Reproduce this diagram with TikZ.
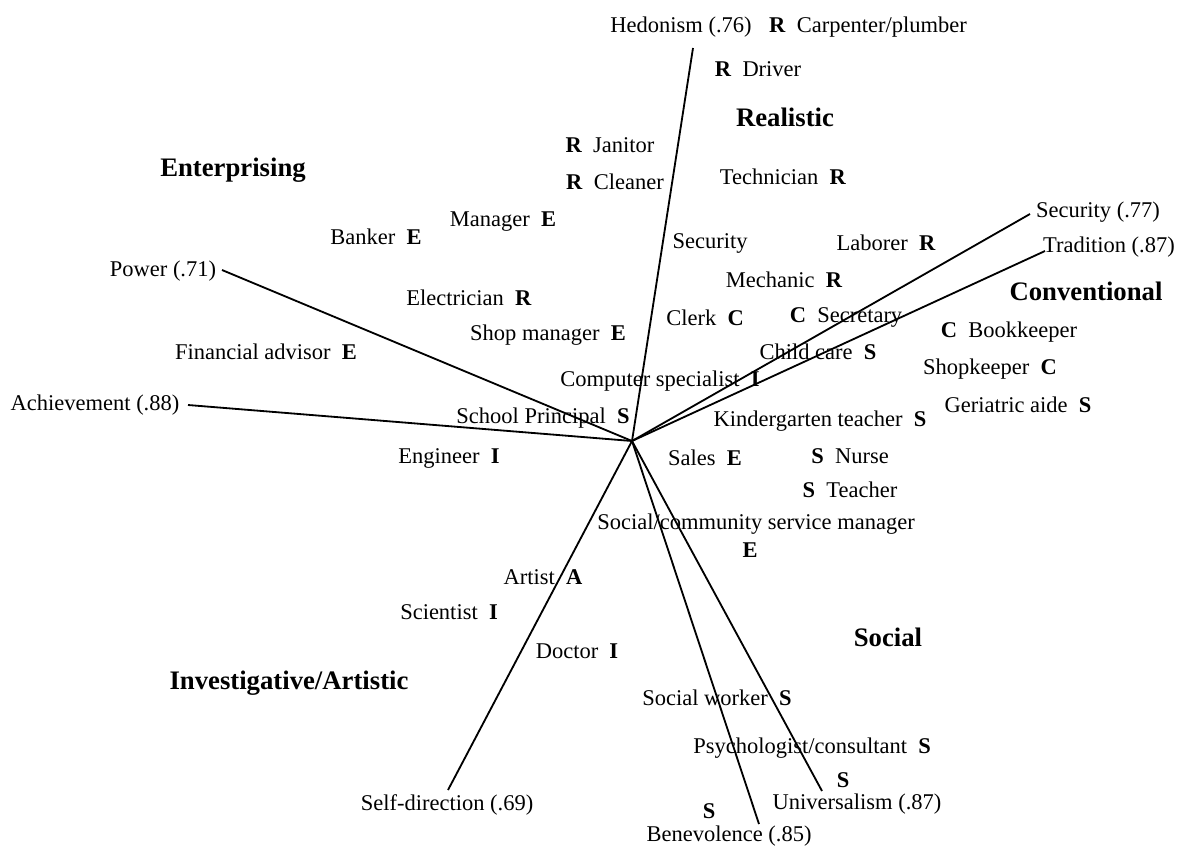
\documentclass[tikz,border=0pt]{standalone}
\usepackage{fontspec}
\setmainfont{Liberation Serif}
\begin{document}
\begin{tikzpicture}[x=0.025cm, y=-0.025cm,
    occ/.style={font=\fontsize{16}{19}\selectfont, inner sep=0pt},
    cat/.style={font=\fontsize{19}{22}\selectfont\bfseries, inner sep=0pt},
    axis/.style={black, line width=1.3pt}]
                \useasboundingbox (0,0) rectangle (1188,848);
                % centre and ends of the value vectors
                \coordinate (O) at (632,441);
                \coordinate (hedEnd) at (693,48);
                \coordinate (powEnd) at (222,270);
                \coordinate (achEnd) at (188,405);
                \coordinate (secEnd) at (1030,214);
                \coordinate (traEnd) at (1045,251);
                \coordinate (selEnd) at (448,790);
                \coordinate (benEnd) at (759,824);
                \coordinate (uniEnd) at (822,791);
                \draw[axis] (O) -- (hedEnd);
                \draw[axis] (O) -- (powEnd);
                \draw[axis] (O) -- (achEnd);
                \draw[axis] (O) -- (secEnd);
                \draw[axis] (O) -- (traEnd);
                \draw[axis] (O) -- (selEnd);
                \draw[axis] (O) -- (benEnd);
                \draw[axis] (O) -- (uniEnd);
                % values
                \node[occ] (hedonism) at (681,27) {Hedonism (.76)};
                \node[occ] (power) at (163,271) {Power (.71)};
                \node[occ] (achievement) at (95,405) {Achievement (.88)};
                \node[occ] (security) at (1098,212) {Security (.77)};
                \node[occ] (tradition) at (1109,247) {Tradition (.87)};
                \node[occ] (selfdir) at (447,805) {Self-direction (.69)};
                \node[occ] (universalism) at (857,804) {Universalism (.87)};
                \node[occ] (benevolence) at (729,836) {Benevolence (.85)};
                % types
                \node[cat] (realistic) at (785,117) {Realistic};
                \node[cat] (enterprising) at (233,170) {Enterprising};
                \node[cat] (conventional) at (1086,291) {Conventional};
                \node[cat] (social) at (888,637) {Social};
                \node[cat] (invart) at (289,683) {Investigative/Artistic};
                % occupations
                \node[occ] (carpenter) at (868,27) {\textbf{R}\enspace Carpenter/plumber};
                \node[occ] (driver) at (758,69) {\textbf{R}\enspace Driver};
                \node[occ] (janitor) at (610,145) {\textbf{R}\enspace Janitor};
                \node[occ] (cleaner) at (615,182) {\textbf{R}\enspace Cleaner};
                \node[occ] (technician) at (783,177) {Technician\enspace\textbf{R}};
                \node[occ] (banker) at (376,237) {Banker\enspace\textbf{E}};
                \node[occ] (manager) at (503,222) {Manager\enspace\textbf{E}};
                \node[occ] (electrician) at (469,298) {Electrician\enspace\textbf{R}};
                \node[occ] (financial) at (266,352) {Financial advisor\enspace\textbf{E}};
                \node[occ] (shopmanager) at (548,335) {Shop manager\enspace\textbf{E}};
                \node[occ] (computer) at (660,381) {Computer specialist\enspace\textbf{I}};
                \node[occ] (principal) at (543,418) {School Principal\enspace\textbf{S}};
                \node[occ] (engineer) at (449,458) {Engineer\enspace\textbf{I}};
                \node[occ] (securityjob) at (710,243) {Security};
                \node[occ] (laborer) at (886,243) {Laborer\enspace\textbf{R}};
                \node[occ] (mechanic) at (784,280) {Mechanic\enspace\textbf{R}};
                \node[occ] (clerk) at (705,318) {Clerk\enspace\textbf{C}};
                \node[occ] (secretary) at (846,317) {\textbf{C}\enspace Secretary};
                \node[occ] (bookkeeper) at (1009,332) {\textbf{C}\enspace Bookkeeper};
                \node[occ] (childcare) at (818,352) {Child care\enspace\textbf{S}};
                \node[occ] (shopkeeper) at (990,369) {Shopkeeper\enspace\textbf{C}};
                \node[occ] (geriatric) at (1018,405) {Geriatric aide\enspace\textbf{S}};
                \node[occ] (kindergarten) at (820,421) {Kindergarten teacher\enspace\textbf{S}};
                \node[occ] (sales) at (705,458) {Sales\enspace\textbf{E}};
                \node[occ] (nurse) at (850,456) {\textbf{S}\enspace Nurse};
                \node[occ] (teacher) at (850,490) {\textbf{S}\enspace Teacher};
                \node[occ] (socialcomm) at (756,524) {Social/community service manager};
                \node[occ] (socialcommE) at (750,550) {\textbf{E}};
                \node[occ] (artist) at (543,577) {Artist\enspace\textbf{A}};
                \node[occ] (scientist) at (449,612) {Scientist\enspace\textbf{I}};
                \node[occ] (doctor) at (577,651) {Doctor\enspace\textbf{I}};
                \node[occ] (socialworker) at (717,698) {Social worker\enspace\textbf{S}};
                \node[occ] (psychologist) at (812,748) {Psychologist/consultant\enspace\textbf{S}};
                \node[occ] (universalismS) at (843,780) {\textbf{S}};
                \node[occ] (benevolenceS) at (709,811) {\textbf{S}};
\end{tikzpicture}
\end{document}
